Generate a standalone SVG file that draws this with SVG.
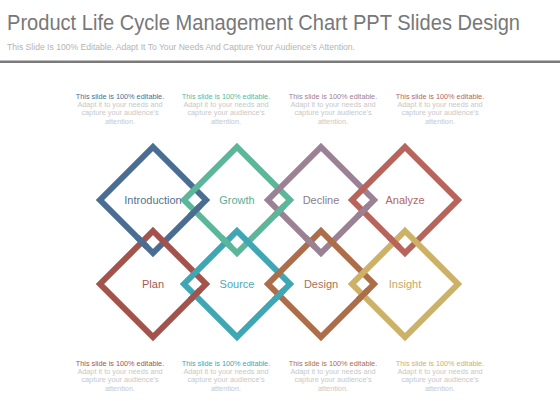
<svg xmlns="http://www.w3.org/2000/svg" width="560" height="420" viewBox="0 0 560 420">
<style>
.title{font-family:"Liberation Sans",Arial,sans-serif;font-size:21.5px;fill:#787878}
.sub{font-family:"Liberation Sans",Arial,sans-serif;font-size:8.3px;fill:#b4b4b4}
.d{fill:none;stroke-width:6;stroke-linejoin:miter}
.o{stroke-width:6;stroke-linecap:butt}
.lbl{font-family:"Liberation Sans",Arial,sans-serif;font-size:11px;text-anchor:middle}
.note{font-family:"Liberation Sans",Arial,sans-serif;font-size:7.3px;text-anchor:middle;fill:#c8c8c8}
.c1{fill:#4a6e93;stroke:#4a6e93}.c2{fill:#5cb79a;stroke:#5cb79a}.c3{fill:#9a8194;stroke:#9a8194}.c4{fill:#b8645b;stroke:#b8645b}
.c5{fill:#a3534b;stroke:#a3534b}.c6{fill:#3fa6b4;stroke:#3fa6b4}.c7{fill:#ad6d48;stroke:#ad6d48}.c8{fill:#cdb166;stroke:#cdb166}
</style>
<rect width="560" height="420" fill="#ffffff"/>
<text class="title" x="7" y="30" textLength="513" lengthAdjust="spacingAndGlyphs">Product Life Cycle Management  Chart PPT Slides Design</text>
<text class="sub" x="7" y="50" textLength="348" lengthAdjust="spacingAndGlyphs">This Slide Is 100% Editable. Adapt It To Your Needs And Capture Your Audience's Attention.</text>
<rect x="0" y="60.5" width="560" height="2.5" fill="#7a7a7a"/>

<g id="notes-top">
<text class="note" x="120" y="99"><tspan class="c1" style="stroke:none">This slide is 100% editable.</tspan><tspan x="120" dy="8.2">Adapt it to your needs and</tspan><tspan x="120" dy="8.2">capture your audience's</tspan><tspan x="120" dy="8.2">attention.</tspan></text>
<text class="note" x="226" y="99"><tspan class="c2" style="stroke:none">This slide is 100% editable.</tspan><tspan x="226" dy="8.2">Adapt it to your needs and</tspan><tspan x="226" dy="8.2">capture your audience's</tspan><tspan x="226" dy="8.2">attention.</tspan></text>
<text class="note" x="333" y="99"><tspan class="c3" style="stroke:none">This slide is 100% editable.</tspan><tspan x="333" dy="8.2">Adapt it to your needs and</tspan><tspan x="333" dy="8.2">capture your audience's</tspan><tspan x="333" dy="8.2">attention.</tspan></text>
<text class="note" x="440" y="99"><tspan class="c4" style="stroke:none">This slide is 100% editable.</tspan><tspan x="440" dy="8.2">Adapt it to your needs and</tspan><tspan x="440" dy="8.2">capture your audience's</tspan><tspan x="440" dy="8.2">attention.</tspan></text>
</g>

<g id="connectors">
<polygon class="d c1" style="fill:none" points="153,147 206,200 153,253 100,200"/>
<polygon class="d c2" style="fill:none" points="237,147 290,200 237,253 184,200"/>
<polygon class="d c3" style="fill:none" points="321,147 374,200 321,253 268,200"/>
<polygon class="d c4" style="fill:none" points="405,147 458,200 405,253 352,200"/>
<polygon class="d c5" style="fill:none" points="153,231 206,284 153,337 100,284"/>
<polygon class="d c6" style="fill:none" points="237,231 290,284 237,337 184,284"/>
<polygon class="d c7" style="fill:none" points="321,231 374,284 321,337 268,284"/>
<polygon class="d c8" style="fill:none" points="405,231 458,284 405,337 352,284"/>
<line class="o c1" x1="190" y1="216" x2="200" y2="206"/>
<line class="o c2" x1="274" y1="216" x2="284" y2="206"/>
<line class="o c3" x1="358" y1="216" x2="368" y2="206"/>
<line class="o c5" x1="190" y1="300" x2="200" y2="290"/>
<line class="o c6" x1="274" y1="300" x2="284" y2="290"/>
<line class="o c7" x1="358" y1="300" x2="368" y2="290"/>
<line class="o c1" x1="137" y1="237" x2="147" y2="247"/>
<line class="o c2" x1="221" y1="237" x2="231" y2="247"/>
<line class="o c3" x1="305" y1="237" x2="315" y2="247"/>
<line class="o c4" x1="389" y1="237" x2="399" y2="247"/>
</g>

<g id="n-introduction"><text class="lbl" x="153" y="204" fill="#56718f">Introduction</text></g>
<g id="n-growth"><text class="lbl" x="237" y="204" fill="#5aae93">Growth</text></g>
<g id="n-decline"><text class="lbl" x="321" y="204" fill="#8f7b8b">Decline</text></g>
<g id="n-analyze"><text class="lbl" x="405" y="204" fill="#b3675e">Analyze</text></g>
<g id="n-plan"><text class="lbl" x="153" y="288" fill="#a85a52">Plan</text></g>
<g id="n-source"><text class="lbl" x="237" y="288" fill="#4ea8b5">Source</text></g>
<g id="n-design"><text class="lbl" x="321" y="288" fill="#a7735a">Design</text></g>
<g id="n-insight"><text class="lbl" x="405" y="288" fill="#c4a86a">Insight</text></g>

<g id="notes-bottom">
<text class="note" x="120" y="366"><tspan class="c5" style="stroke:none">This slide is 100% editable.</tspan><tspan x="120" dy="8.2">Adapt it to your needs and</tspan><tspan x="120" dy="8.2">capture your audience's</tspan><tspan x="120" dy="8.2">attention.</tspan></text>
<text class="note" x="226" y="366"><tspan class="c6" style="stroke:none">This slide is 100% editable.</tspan><tspan x="226" dy="8.2">Adapt it to your needs and</tspan><tspan x="226" dy="8.2">capture your audience's</tspan><tspan x="226" dy="8.2">attention.</tspan></text>
<text class="note" x="333" y="366"><tspan class="c7" style="stroke:none">This slide is 100% editable.</tspan><tspan x="333" dy="8.2">Adapt it to your needs and</tspan><tspan x="333" dy="8.2">capture your audience's</tspan><tspan x="333" dy="8.2">attention.</tspan></text>
<text class="note" x="440" y="366"><tspan class="c8" style="stroke:none">This slide is 100% editable.</tspan><tspan x="440" dy="8.2">Adapt it to your needs and</tspan><tspan x="440" dy="8.2">capture your audience's</tspan><tspan x="440" dy="8.2">attention.</tspan></text>
</g>
</svg>
